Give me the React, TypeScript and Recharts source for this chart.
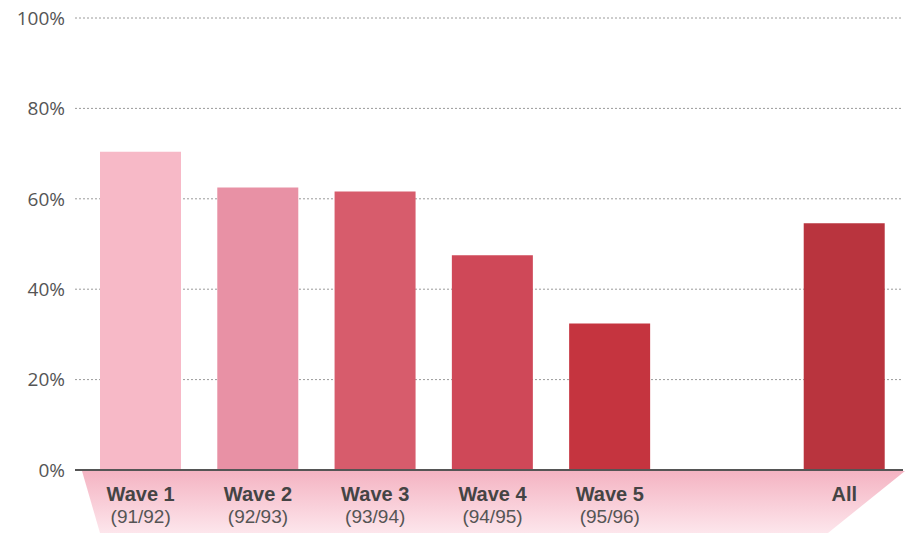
import React from "react";
import { BarChart, Bar, XAxis, YAxis, CartesianGrid, Cell } from "recharts";

// survey waves, the empty slot separates the waves from the overall bar
const categories = ["Wave 1", "Wave 2", "Wave 3", "Wave 4", "Wave 5", "", "All"];
const periods = ["(91/92)", "(92/93)", "(93/94)", "(94/95)", "(95/96)", "", ""];
const shares = [70.4, 62.5, 61.6, 47.5, 32.4, null, 54.6];
const yTicks = [0, 20, 40, 60, 80, 100];

const BAR_COLORS = ["#f7b9c7", "#e891a5", "#d75c6c", "#cf4858", "#c5343f", "#ffffff", "#b9343e"];
const FONT = "'Open Sans', 'Noto Sans', sans-serif";
// tighter line box so the two label lines fit under the axis
const LABEL_FONT = "'Liberation Sans', Arial, sans-serif";

const data = categories.map((name, i) => ({ name, period: periods[i], value: shares[i] }));

function WaveTick(props: any) {
  const { x, y, payload } = props;
  const idx = payload.index ?? categories.indexOf(payload.value);
  return (
    <g transform={`translate(${x},${y})`}>
      <text x={0} y={23} textAnchor="middle" fill="#444" fontFamily={LABEL_FONT} fontWeight={700} fontSize={20}>
        {payload.value}
      </text>
      {periods[idx] && (
        <text x={0} y={45} textAnchor="middle" fill="#555" fontFamily={LABEL_FONT} fontSize={19}>
          {periods[idx]}
        </text>
      )}
    </g>
  );
}

export default function App() {
  return (
    <div style={{ position: "absolute", left: 0, top: 0, width: 909, height: 533, background: "#fff" }}>
      <svg width={909} height={533} style={{ position: "absolute", left: 0, top: 0 }}>
        <defs>
          <linearGradient id="band" x1="0" y1="0" x2="0" y2="1">
            <stop offset="0%" stopColor="#f4b3c2" />
            <stop offset="100%" stopColor="#fde6ec" />
          </linearGradient>
        </defs>
        <polygon points="82,471 905,471 828,533 100,533" fill="url(#band)" />
      </svg>
      <div style={{ position: "absolute", left: 0, top: 0 }}>
        <BarChart
          width={909}
          height={533}
          data={data}
          margin={{ top: 18, right: 6, bottom: 0, left: 0 }}
          barSize={81}
        >
          <CartesianGrid vertical={false} stroke="#9a9a9a" strokeDasharray="2 2" />
          <XAxis
            dataKey="name"
            interval={0}
            height={63}
            padding={{ left: 7, right: 0 }}
            axisLine={{ stroke: "#555", strokeWidth: 2 }}
            tickLine={false}
            tick={<WaveTick />}
          />
          <YAxis
            width={75}
            domain={[0, 100]}
            ticks={yTicks}
            tickFormatter={(v: number) => `${v}%`}
            axisLine={false}
            tickLine={false}
            tickMargin={4}
            tick={{ fill: "#555", fontSize: 19, fontFamily: FONT }}
          />
          <Bar dataKey="value" isAnimationActive={false}>
            {data.map((d, i) => (
              <Cell key={d.name + i} fill={BAR_COLORS[i]} />
            ))}
          </Bar>
        </BarChart>
      </div>
    </div>
  );
}
